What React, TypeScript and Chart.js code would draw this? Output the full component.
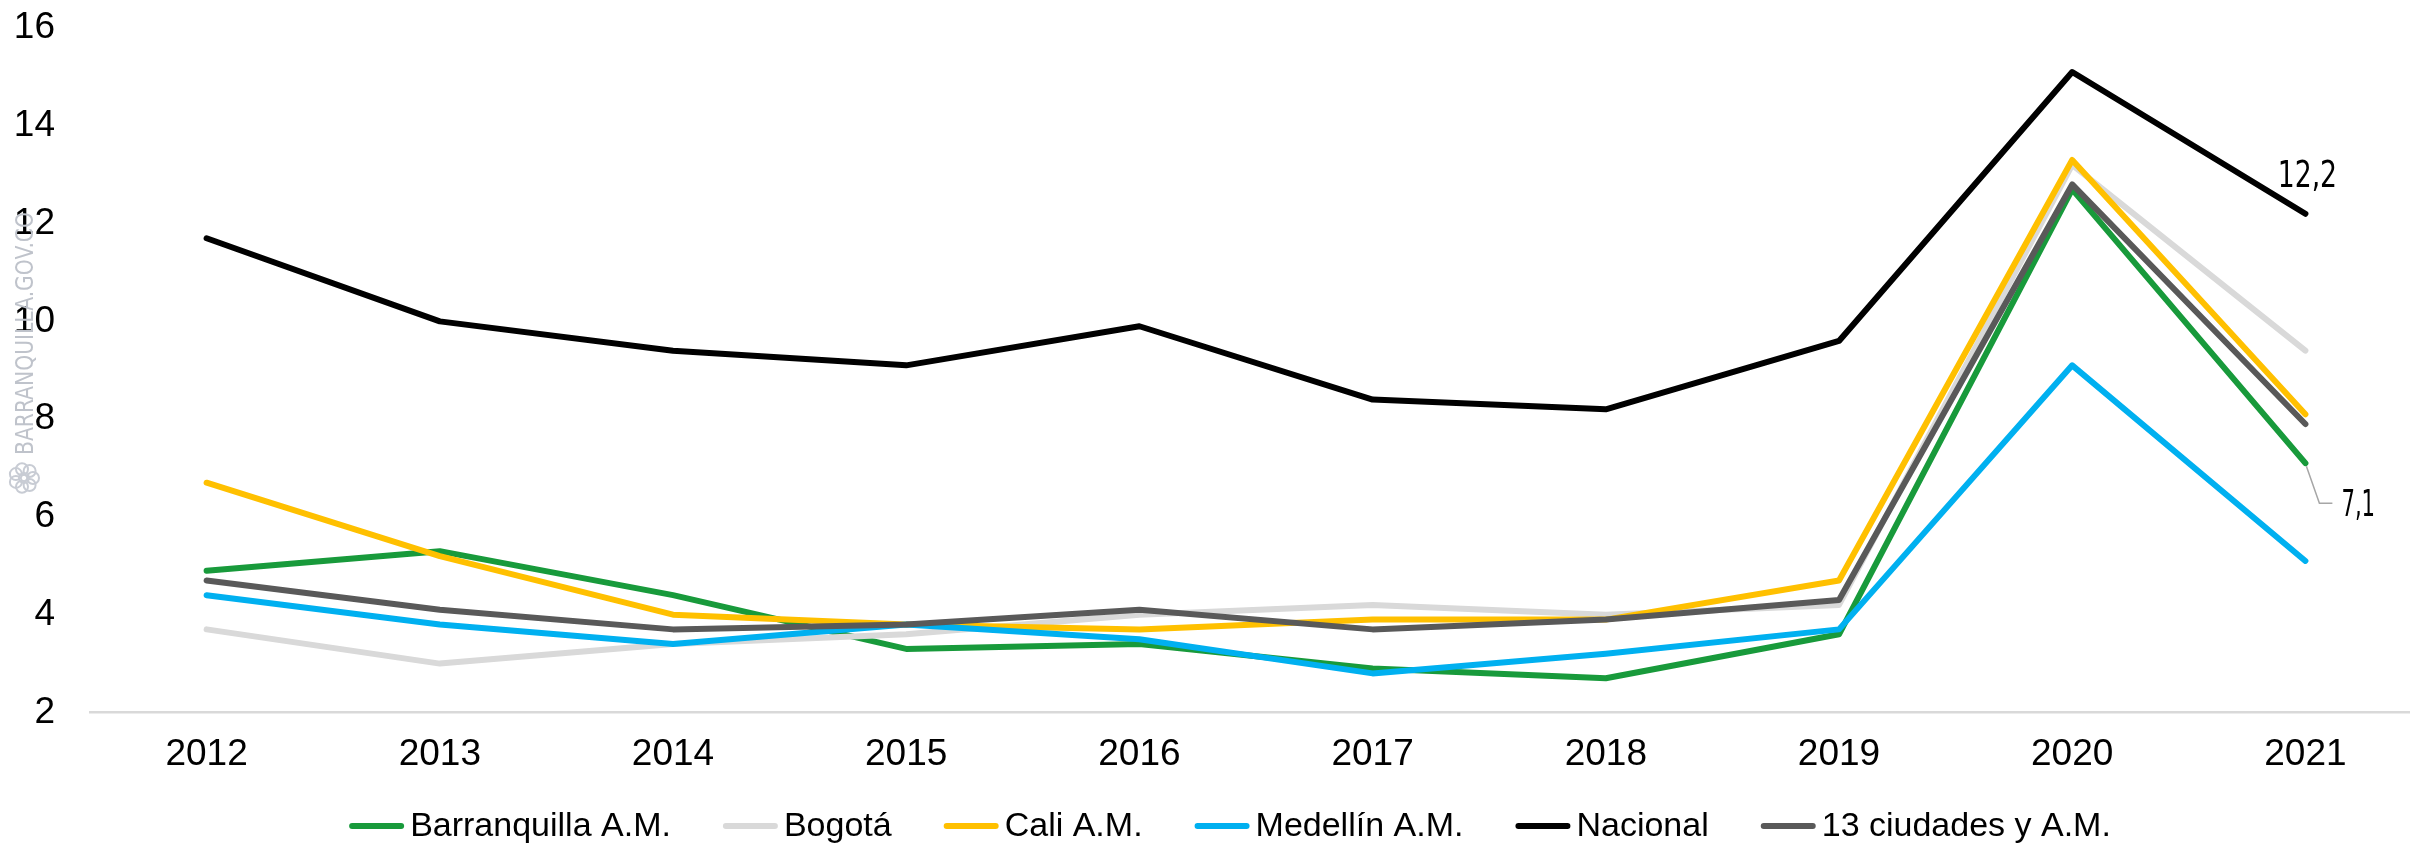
import React, { useEffect, useRef } from 'react';
import { Chart, registerables } from 'chart.js';

Chart.register(...registerables);

const years = ['2012', '2013', '2014', '2015', '2016', '2017', '2018', '2019', '2020', '2021'];

const barranquilla = [4.9, 5.3, 4.4, 3.3, 3.4, 2.9, 2.7, 3.6, 12.7, 7.1];
const bogota = [3.7, 3.0, 3.4, 3.6, 4.0, 4.2, 4.0, 4.2, 13.2, 9.4];
const cali = [6.7, 5.2, 4.0, 3.8, 3.7, 3.9, 3.9, 4.7, 13.3, 8.1];
const medellin = [4.4, 3.8, 3.4, 3.8, 3.5, 2.8, 3.2, 3.7, 9.1, 5.1];
const nacional = [11.7, 10.0, 9.4, 9.1, 9.9, 8.4, 8.2, 9.6, 15.1, 12.2];
const trece = [4.7, 4.1, 3.7, 3.8, 4.1, 3.7, 3.9, 4.3, 12.8, 7.9];

const seriesNames = ['Barranquilla A.M.', 'Bogotá', 'Cali A.M.', 'Medellín A.M.', 'Nacional', '13 ciudades y A.M.'];
const seriesValues = [barranquilla, bogota, cali, medellin, nacional, trece];
const seriesColors = ['#189a3b', '#d9d9d9', '#ffc000', '#00b0f0', '#000000', '#595959'];

const yMin = 2;
const yMax = 16;
const yStep = 2;

const watermarkText = 'BARRANQUILLA.GOV.CO';

const CANVAS_W = 2422;
const CANVAS_H = 846;

const tickFont = '"Liberation Sans", Arial, sans-serif';
const condensedFont = '"Liberation Sans Narrow", "DejaVu Sans Condensed", "Liberation Sans", sans-serif';

const fmt = (v: number) => v.toFixed(1).replace('.', ',');

const overlayPlugin = {
  id: 'overlay',
  afterDraw(chart: any) {
    const ctx: CanvasRenderingContext2D = chart.ctx;

    // watermark
    ctx.save();
    ctx.fillStyle = '#bfc3cb';
    ctx.font = '24px ' + condensedFont;
    const wmW = ctx.measureText(watermarkText).width;
    ctx.translate(33, 455);
    ctx.rotate(-Math.PI / 2);
    ctx.scale(243 / wmW, 1);
    ctx.textAlign = 'left';
    ctx.textBaseline = 'alphabetic';
    ctx.fillText(watermarkText, 0, 0);
    ctx.restore();

    // watermark logo (rosette)
    ctx.save();
    ctx.strokeStyle = '#c8ccd4';
    ctx.lineWidth = 2;
    const cx = 24, cy = 478;
    for (let k = 0; k < 7; k++) {
      const a = (k / 7) * Math.PI * 2;
      ctx.beginPath();
      ctx.arc(cx + Math.cos(a) * 9, cy + Math.sin(a) * 9, 6, 0, Math.PI * 2);
      ctx.stroke();
    }
    ctx.beginPath();
    ctx.arc(cx, cy, 5, 0, Math.PI * 2);
    ctx.stroke();
    ctx.restore();

    // annotations
    const xs = chart.scales.x;
    const ys = chart.scales.y;
    const last = years.length - 1;
    ctx.save();
    ctx.fillStyle = '#000';
    ctx.font = '38px ' + condensedFont;
    // Nacional last value
    const nx = xs.getPixelForValue(last);
    const ny = ys.getPixelForValue(nacional[last]);
    ctx.save();
    ctx.translate(nx + 2, ny - 27);
    ctx.scale(0.78, 1);
    ctx.textAlign = 'center';
    ctx.textBaseline = 'alphabetic';
    ctx.fillText(fmt(nacional[last]), 0, 0);
    ctx.restore();
    // Barranquilla last value with leader line
    const bx = xs.getPixelForValue(last);
    const by = ys.getPixelForValue(barranquilla[last]);
    ctx.strokeStyle = '#a6a6a6';
    ctx.lineWidth = 1.5;
    ctx.beginPath();
    ctx.moveTo(bx + 1, by + 3);
    ctx.lineTo(bx + 14, by + 40);
    ctx.lineTo(bx + 27, by + 40);
    ctx.stroke();
    ctx.save();
    ctx.translate(bx + 36, by + 53);
    ctx.scale(0.62, 1);
    ctx.textAlign = 'left';
    ctx.textBaseline = 'alphabetic';
    ctx.fillText(fmt(barranquilla[last]), 0, 0);
    ctx.restore();
    ctx.restore();

    // legend
    ctx.save();
    ctx.font = '34px ' + tickFont;
    const lineW = 55;
    const lineGap = 6;
    const itemGap = 52;
    const widths = seriesNames.map((n) => lineW + lineGap + ctx.measureText(n).width);
    const total = widths.reduce((a, b) => a + b, 0) + itemGap * (seriesNames.length - 1);
    let x = 1230 - total / 2;
    const ly = 826;
    seriesNames.forEach((name, i) => {
      ctx.strokeStyle = seriesColors[i];
      ctx.lineWidth = 6;
      ctx.lineCap = 'round';
      ctx.beginPath();
      ctx.moveTo(x + 3, ly);
      ctx.lineTo(x + lineW - 3, ly);
      ctx.stroke();
      ctx.fillStyle = '#000';
      ctx.textAlign = 'left';
      ctx.textBaseline = 'alphabetic';
      ctx.fillText(name, x + lineW + lineGap, 836);
      x += widths[i] + itemGap;
    });
    ctx.restore();
  },
};

export default function App() {
  const canvasRef = useRef<HTMLCanvasElement | null>(null);

  useEffect(() => {
    document.body.style.margin = '0';
    document.body.style.overflow = 'hidden';
    const canvas = canvasRef.current;
    if (!canvas) return;
    const chart = new Chart(canvas, {
      type: 'line',
      data: {
        labels: years,
        datasets: seriesNames.map((name, i) => ({
          label: name,
          data: seriesValues[i],
          borderColor: seriesColors[i],
          backgroundColor: seriesColors[i],
          order: seriesNames.length - 1 - i,
        })),
      },
      options: {
        animation: false,
        responsive: false,
        devicePixelRatio: 1,
        layout: { padding: { top: 28, left: 0, right: 0, bottom: 0 } },
        plugins: {
          legend: { display: false },
          tooltip: { enabled: false },
        },
        elements: {
          point: { radius: 0, hoverRadius: 0 },
          line: {
            tension: 0,
            borderWidth: 6,
            borderCapStyle: 'round',
            borderJoinStyle: 'round',
            fill: false,
          },
        },
        scales: {
          x: {
            type: 'category',
            offset: true,
            grid: { display: false, drawTicks: false },
            border: { display: true, color: '#d9d9d9', width: 2.5 },
            ticks: {
              color: '#000',
              font: { family: tickFont, size: 37 },
              padding: 20,
              maxRotation: 0,
              autoSkip: false,
            },
            afterFit: (s: any) => {
              s.height = CANVAS_H - 712.5;
              s.paddingLeft = 0;
              s.paddingRight = 0;
            },
          },
          y: {
            min: yMin,
            max: yMax,
            grid: { display: false, drawTicks: false },
            border: { display: false },
            ticks: {
              stepSize: yStep,
              color: '#000',
              font: { family: tickFont, size: 37 },
              padding: 35,
            },
            afterFit: (s: any) => {
              s.width = 90;
              s.paddingTop = 0;
              s.paddingBottom = 0;
            },
          },
        },
      } as any,
      plugins: [overlayPlugin],
    });
    return () => chart.destroy();
  }, []);

  return (
    <div style={{ position: 'fixed', left: 0, top: 0, width: 2410, height: CANVAS_H, overflow: 'hidden', background: '#fff' }}>
      <canvas
        ref={canvasRef}
        width={CANVAS_W}
        height={CANVAS_H}
        style={{ display: 'block', width: CANVAS_W, height: CANVAS_H }}
      />
    </div>
  );
}
